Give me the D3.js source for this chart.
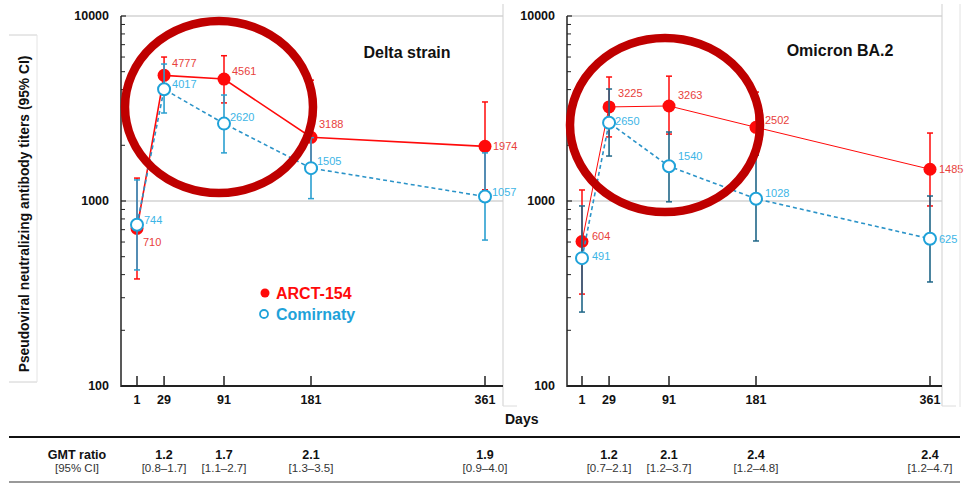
<!DOCTYPE html>
<html>
<head>
<meta charset="utf-8">
<script src="https://cdn.jsdelivr.net/npm/d3@7"></script>
<style>
  body { margin: 0; background: #fff; }
  svg { font-family: "Liberation Sans", Arial, sans-serif; }
</style>
</head>
<body>
<svg id="chart" width="974" height="484"></svg>
<script>
const days = [1, 29, 91, 181, 361];

// Delta strain
const deltaArct = [710, 4777, 4561, 2210, 1974];
const deltaArctLabels = ['710', '4777', '4561', '3188', '1974'];
const deltaArctLo = [379, 3800, 3390, 1500, 1150];
const deltaArctHi = [1330, 6000, 6100, 4500, 3430];
const deltaComi = [744, 4017, 2620, 1505, 1057];
const deltaComiLo = [424, 2990, 1820, 1030, 615];
const deltaComiHi = [1300, 5500, 3740, 2200, 1820];
const deltaRatio = ['', '1.2', '1.7', '2.1', '1.9'];
const deltaRatioCI = ['', '[0.8\u20131.7]', '[1.1\u20132.7]', '[1.3\u20133.5]', '[0.9\u20134.0]'];

// Omicron BA.2
const omiArct = [604, 3225, 3263, 2502, 1485];
const omiArctLo = [314, 2220, 2300, 1770, 940];
const omiArctHi = [1147, 4680, 4730, 3880, 2330];
const omiComi = [491, 2650, 1540, 1028, 625];
const omiComiLo = [251, 1750, 990, 608, 365];
const omiComiHi = [940, 4030, 2360, 1770, 1064];
const omiRatio = ['', '1.2', '2.1', '2.4', '2.4'];
const omiRatioCI = ['', '[0.7\u20132.1]', '[1.2\u20133.7]', '[1.2\u20134.8]', '[1.2\u20134.7]'];

const yTicks = [100, 1000, 10000];

const RED = '#ff0a0a';
const RED_TXT = '#e8413c';
const BLUE = '#1fa2d9';
const BLUE_TXT = '#3db5e6';

const svg = d3.select('#chart');
const y = d3.scaleLog().domain([100, 10000]).range([386, 16]);

const panels = [
  {
    title: 'Delta strain', titleX: 407, titleY: 58,
    axisX: 121, rightX: 503, dayRange: [137, 485],
    arct: deltaArct, arctLabels: deltaArctLabels, arctLo: deltaArctLo, arctHi: deltaArctHi,
    comi: deltaComi, comiLo: deltaComiLo, comiHi: deltaComiHi,
    comiBar: '#2a9fd0', arctWidth: 1.6,
    ratio: deltaRatio, ratioCI: deltaRatioCI,
    // label offsets [dx, dy] for each point
    arctOff: [[6, 14], [8, -12], [8, -8], [8, -13], [8, 0]],
    comiOff: [[7, -5], [8, -5], [6, -6], [6, -7], [7, -4]],
    circle: { cx: 219, cy: 107, rx: 94, ry: 86 }
  },
  {
    title: 'Omicron BA.2', titleX: 840, titleY: 56,
    axisX: 567, rightX: 942, dayRange: [582, 930],
    arct: omiArct, arctLabels: omiArct.map(String), arctLo: omiArctLo, arctHi: omiArctHi,
    comi: omiComi, comiLo: omiComiLo, comiHi: omiComiHi,
    comiBar: '#1f6688', arctWidth: 1,
    ratio: omiRatio, ratioCI: omiRatioCI,
    arctOff: [[10, -5], [9, -14], [9, -11], [9, -7], [9, 0]],
    comiOff: [[10, -2], [6, -2], [9, -10], [9, -6], [9, 0]],
    circle: { cx: 665, cy: 125, rx: 95, ry: 87 }
  }
];

panels.forEach(p => {
  const x = d3.scaleLinear().domain([1, 361]).range(p.dayRange);
  const g = svg.append('g');

  // light frame
  g.append('line').attr('x1', p.axisX).attr('x2', p.rightX).attr('y1', y(10000)).attr('y2', y(10000))
    .attr('stroke', '#bdbdbd').attr('stroke-width', 1);
  g.append('line').attr('x1', p.axisX).attr('x2', p.rightX).attr('y1', y(1000)).attr('y2', y(1000))
    .attr('stroke', '#bdbdbd').attr('stroke-width', 1);
  g.append('line').attr('x1', p.rightX).attr('x2', p.rightX).attr('y1', 4).attr('y2', 406)
    .attr('stroke', '#cfcfcf').attr('stroke-width', 1);
  g.append('line').attr('x1', p.rightX).attr('x2', p.rightX + 14).attr('y1', 406).attr('y2', 406)
    .attr('stroke', '#dcdcdc').attr('stroke-width', 1);

  // y axis
  const minor = [];
  [100, 1000].forEach(b => { for (let k = 2; k <= 9; k++) minor.push(b * k); });
  g.selectAll('.minor').data(minor).enter().append('line')
    .attr('x1', p.axisX).attr('x2', p.axisX + 4)
    .attr('y1', d => y(d)).attr('y2', d => y(d))
    .attr('stroke', '#222').attr('stroke-width', 1);
  g.selectAll('.major').data(yTicks).enter().append('line')
    .attr('x1', p.axisX).attr('x2', p.axisX + 5)
    .attr('y1', d => y(d)).attr('y2', d => y(d))
    .attr('stroke', '#222').attr('stroke-width', 1.2);
  g.selectAll('.ylab').data(yTicks).enter().append('text')
    .attr('x', p.axisX - 12).attr('y', d => y(d)).attr('dy', '0.35em')
    .attr('text-anchor', 'end').attr('font-size', 12.5).attr('font-weight', 'bold')
    .attr('fill', '#111').text(d => d);
  g.append('line').attr('x1', p.axisX).attr('x2', p.axisX).attr('y1', y(10000)).attr('y2', y(100) + 1)
    .attr('stroke', '#222').attr('stroke-width', 1.5);

  // x axis
  g.append('line').attr('x1', p.axisX).attr('x2', p.rightX).attr('y1', y(100)).attr('y2', y(100))
    .attr('stroke', '#222').attr('stroke-width', 2);
  g.selectAll('.xtick').data(days).enter().append('line')
    .attr('x1', d => x(d)).attr('x2', d => x(d)).attr('y1', y(100)).attr('y2', y(100) - 10)
    .attr('stroke', '#222').attr('stroke-width', 1.5);
  g.selectAll('.xlab').data(days).enter().append('text')
    .attr('x', d => x(d)).attr('y', y(100) + 18).attr('text-anchor', 'middle')
    .attr('font-size', 12.5).attr('font-weight', 'bold').attr('fill', '#111').text(d => d);

  // title
  g.append('text').attr('x', p.titleX).attr('y', p.titleY).attr('text-anchor', 'middle')
    .attr('font-size', 16).attr('font-weight', 'bold').attr('fill', '#111').text(p.title);

  const line = d3.line().x((d, i) => x(days[i])).y(d => y(d));

  // ARCT-154 (red)
  g.append('path').datum(p.arct).attr('d', line).attr('fill', 'none')
    .attr('stroke', RED).attr('stroke-width', p.arctWidth);
  days.forEach((d, i) => {
    const cx = x(d);
    g.append('line').attr('x1', cx).attr('x2', cx).attr('y1', y(p.arctLo[i])).attr('y2', y(p.arctHi[i]))
      .attr('stroke', RED).attr('stroke-width', 1.5);
    [p.arctLo[i], p.arctHi[i]].forEach(v => {
      g.append('line').attr('x1', cx - 3).attr('x2', cx + 3).attr('y1', y(v)).attr('y2', y(v))
        .attr('stroke', RED).attr('stroke-width', 1.5);
    });
  });
  g.selectAll('.arct').data(p.arct).enter().append('circle')
    .attr('cx', (d, i) => x(days[i])).attr('cy', d => y(d)).attr('r', 6.5).attr('fill', RED);

  // Comirnaty (blue)
  g.append('path').datum(p.comi).attr('d', line).attr('fill', 'none')
    .attr('stroke', '#2a93c8').attr('stroke-width', 1.6).attr('stroke-dasharray', '4,3');
  days.forEach((d, i) => {
    const cx = x(d);
    g.append('line').attr('x1', cx).attr('x2', cx).attr('y1', y(p.comiLo[i])).attr('y2', y(p.comiHi[i]))
      .attr('stroke', p.comiBar).attr('stroke-width', 1.6);
    [p.comiLo[i], p.comiHi[i]].forEach(v => {
      g.append('line').attr('x1', cx - 3).attr('x2', cx + 3).attr('y1', y(v)).attr('y2', y(v))
        .attr('stroke', p.comiBar).attr('stroke-width', 1.5);
    });
  });
  g.selectAll('.comi').data(p.comi).enter().append('circle')
    .attr('cx', (d, i) => x(days[i])).attr('cy', d => y(d)).attr('r', 6)
    .attr('fill', '#fff').attr('stroke', BLUE).attr('stroke-width', 2);

  // value labels
  p.arct.forEach((v, i) => {
    g.append('text').attr('x', x(days[i]) + p.arctOff[i][0]).attr('y', y(v) + p.arctOff[i][1])
      .attr('dy', '0.35em').attr('font-size', 11).attr('fill', RED_TXT).text(p.arctLabels[i]);
  });
  p.comi.forEach((v, i) => {
    g.append('text').attr('x', x(days[i]) + p.comiOff[i][0]).attr('y', y(v) + p.comiOff[i][1])
      .attr('dy', '0.35em').attr('font-size', 11).attr('fill', BLUE_TXT).text(v);
  });

  // annotation circle
  g.append('ellipse').attr('cx', p.circle.cx).attr('cy', p.circle.cy)
    .attr('rx', p.circle.rx).attr('ry', p.circle.ry)
    .attr('fill', 'none').attr('stroke', '#bf0000').attr('stroke-width', 8.5);

  // GMT ratio row
  days.forEach((d, i) => {
    if (!p.ratio[i]) return;
    g.append('text').attr('x', x(d)).attr('y', 459).attr('text-anchor', 'middle')
      .attr('font-size', 12.5).attr('font-weight', 'bold').attr('fill', '#111').text(p.ratio[i]);
    g.append('text').attr('x', x(d)).attr('y', 472).attr('text-anchor', 'middle')
      .attr('font-size', 11.5).attr('fill', '#333').text(p.ratioCI[i]);
  });
});

// outer right frame line
svg.append('line').attr('x1', 960).attr('x2', 960).attr('y1', 4).attr('y2', 407)
  .attr('stroke', '#e2e2e2');

// y axis title with light box edges
svg.append('line').attr('x1', 9).attr('x2', 37).attr('y1', 35).attr('y2', 35).attr('stroke', '#d0d0d0');
svg.append('line').attr('x1', 9).attr('x2', 37).attr('y1', 382).attr('y2', 382).attr('stroke', '#d0d0d0');
svg.append('line').attr('x1', 37).attr('x2', 37).attr('y1', 35).attr('y2', 382).attr('stroke', '#e4e4e4');
svg.append('text').attr('transform', 'translate(29,214) rotate(-90)')
  .attr('text-anchor', 'middle').attr('font-size', 13.8).attr('font-weight', 'bold').attr('fill', '#111')
  .text('Pseudoviral neutralizing antibody titers (95% CI)');

// legend
const legend = svg.append('g').attr('transform', 'translate(265,293)');
legend.append('circle').attr('cx', 0).attr('cy', 0).attr('r', 4.5).attr('fill', RED);
legend.append('text').attr('x', 11).attr('y', 0).attr('dy', '0.35em').attr('font-size', 16)
  .attr('font-weight', 'bold').attr('fill', RED).text('ARCT-154');
legend.append('circle').attr('cx', -1).attr('cy', 21).attr('r', 4).attr('fill', '#fff')
  .attr('stroke', BLUE).attr('stroke-width', 1.8);
legend.append('text').attr('x', 11).attr('y', 21).attr('dy', '0.35em').attr('font-size', 16)
  .attr('font-weight', 'bold').attr('fill', BLUE).text('Comirnaty');

// Days label
svg.append('text').attr('x', 505).attr('y', 424).attr('font-size', 14).attr('font-weight', 'bold')
  .attr('fill', '#111').text('Days');

// table rules and row header
svg.append('line').attr('x1', 9).attr('x2', 960).attr('y1', 437).attr('y2', 437)
  .attr('stroke', '#111').attr('stroke-width', 2);
svg.append('line').attr('x1', 9).attr('x2', 960).attr('y1', 482).attr('y2', 482)
  .attr('stroke', '#777').attr('stroke-width', 1.5);
svg.append('text').attr('x', 77).attr('y', 459).attr('text-anchor', 'middle').attr('font-size', 12.5)
  .attr('font-weight', 'bold').attr('fill', '#111').text('GMT ratio');
svg.append('text').attr('x', 77).attr('y', 472).attr('text-anchor', 'middle').attr('font-size', 11.5)
  .attr('fill', '#333').text('[95% CI]');
</script>
</body>
</html>
